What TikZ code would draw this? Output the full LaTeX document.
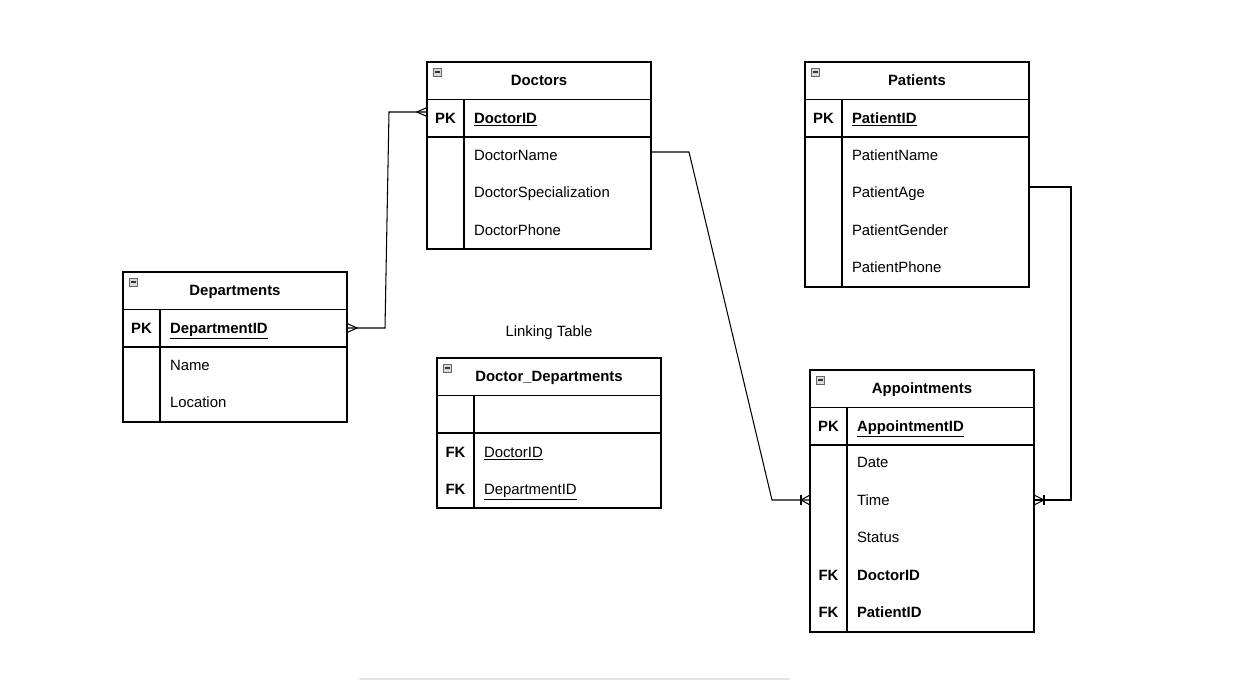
\documentclass[tikz,border=0pt]{standalone}
\usepackage{fontspec}
\setmainfont{Liberation Sans}

% One ER table: #1 name, #2 left x, #3 top y, #4 height, #5 title.
% Header row and primary-key row are 37.5pt high, key column is 37pt wide.
\newcommand\ertable[5]{%
  \node[tablebox, minimum height=#4pt] (#1) at (#2,#3) {};
  \draw[frame] ([yshift=-37.5pt]#1.north west) -- ([yshift=-37.5pt]#1.north east);
  \draw[frame] ([yshift=-75pt]#1.north west) -- ([yshift=-75pt]#1.north east);
  \draw[frame] ([xshift=37pt,yshift=-37.5pt]#1.north west) -- ([xshift=37pt]#1.south west);
  \draw[icon] ([xshift=6pt,yshift=-6pt]#1.north west) rectangle ++(8,8);
  \draw[line width=1.3pt, black!80] ([xshift=7.5pt,yshift=-10pt]#1.north west) -- ++(5,0);
  \node[titletxt] (#1-title) at ([yshift=-18.5pt]#1.north) {#5};
}
% Field text: #1 table, #2 node name, #3 row centre below the top, #4 text
\newcommand\erfield[4]{%
  \node[fieldtxt] (#2) at ([xshift=37pt,yshift=-#3pt]#1.north west) {#4};}
% Key marker in the narrow column
\newcommand\erkey[4]{%
  \node[keytxt] (#2) at ([xshift=18.5pt,yshift=-#3pt]#1.north west) {#4};}

\begin{document}
\begin{tikzpicture}[x=1pt,y=-1pt,
  every node/.style={font=\fontsize{14.9}{18}\selectfont},
  frame/.style={draw=black, line width=1.05pt},
  tablebox/.style={frame, fill=white, inner sep=0pt, outer sep=0pt,
    minimum width=224pt, anchor=north west},
  titletxt/.style={font=\fontsize{14.9}{18}\selectfont\bfseries, inner sep=0pt,
    text height=10.7pt, text depth=0pt},
  keytxt/.style={titletxt},
  lbl/.style={inner sep=0pt, text height=10.7pt, text depth=0pt},
  fieldtxt/.style={inner xsep=10pt, inner ysep=0pt, text width=167pt, align=left,
    text height=10.7pt, text depth=0pt, anchor=west, outer sep=0pt},
  icon/.style={draw=gray!80!black, fill=gray!30, line width=0.7pt},
  conn/.style={draw=black, line width=1.05pt},
]
\fill[white] (0,0) rectangle (1242,680);
\useasboundingbox (0,0) rectangle (1242,680);

% Doctors
\ertable{doctors}{427}{62}{187}{Doctors}
\erkey{doctors}{doctors-pk}{56}{PK}
\erfield{doctors}{doctors-id}{56}{\textbf{\underline{DoctorID}}}
\erfield{doctors}{doctors-name}{93}{DoctorName}
\erfield{doctors}{doctors-spec}{130.5}{DoctorSpecialization}
\erfield{doctors}{doctors-phone}{168}{DoctorPhone}

% Patients
\ertable{patients}{805}{62}{225}{Patients}
\erkey{patients}{patients-pk}{56}{PK}
\erfield{patients}{patients-id}{56}{\textbf{\underline{PatientID}}}
\erfield{patients}{patients-name}{93}{PatientName}
\erfield{patients}{patients-age}{130.5}{PatientAge}
\erfield{patients}{patients-gender}{168}{PatientGender}
\erfield{patients}{patients-phone}{205.5}{PatientPhone}

% Departments
\ertable{departments}{123}{272}{150}{Departments}
\erkey{departments}{departments-pk}{56}{PK}
\erfield{departments}{departments-id}{56}{\textbf{\underline{DepartmentID}}}
\erfield{departments}{departments-name}{93}{Name}
\erfield{departments}{departments-loc}{130.5}{Location}

% Linking table
\node[lbl] (link-label) at (549,331) {Linking Table};
\ertable{docdept}{437}{358}{150}{Doctor\_Departments}
\erkey{docdept}{docdept-fk1}{94}{FK}
\erfield{docdept}{docdept-doc}{94}{\underline{DoctorID}}
\erkey{docdept}{docdept-fk2}{131}{FK}
\erfield{docdept}{docdept-dep}{131}{\underline{DepartmentID}}

% Appointments
\ertable{appointments}{810}{370}{262}{Appointments}
\erkey{appointments}{appointments-pk}{56}{PK}
\erfield{appointments}{appointments-id}{56}{\textbf{\underline{AppointmentID}}}
\erfield{appointments}{appointments-date}{92.5}{Date}
\erfield{appointments}{appointments-time}{130}{Time}
\erfield{appointments}{appointments-status}{167.5}{Status}
\erkey{appointments}{appointments-fk1}{205}{FK}
\erfield{appointments}{appointments-doc}{205}{\textbf{DoctorID}}
\erkey{appointments}{appointments-fk2}{242.5}{FK}
\erfield{appointments}{appointments-pat}{242.5}{\textbf{PatientID}}

% Connector end points on the table borders
\path (doctors.west |- doctors-id.west) ++(0,-6) coordinate (doc-in);
\path (doctors-name.east) ++(0,-3) coordinate (doc-out);
\path (appointments.west |- appointments-time.west) coordinate (app-in);
\path (patients-age.east) ++(0,-5.5) coordinate (pat-out);

% Departments -- Doctors (many to many)
\draw[conn] (departments-id.east) -- ++(38,0) -- ([xshift=-38pt]doc-in) -- (doc-in);
\draw[conn] ([yshift=4.5pt]doc-in) -- ([xshift=-10pt]doc-in) -- ([yshift=-4.5pt]doc-in);
\draw[conn] ([yshift=4.5pt]departments-id.east) -- ([xshift=10pt]departments-id.east)
  -- ([yshift=-4.5pt]departments-id.east);

% Doctors -- Appointments (one to many)
\draw[conn] (doc-out) -- ++(38,0) -- ([xshift=-38pt]app-in) -- (app-in);
\draw[conn] ([yshift=5pt]app-in) -- ([xshift=-9pt]app-in) -- ([yshift=-5pt]app-in);
\draw[conn] ([xshift=-9pt,yshift=5pt]app-in) -- ([xshift=-9pt,yshift=-5pt]app-in);

% Patients -- Appointments (one to many)
\draw[conn] (pat-out) -- ++(42,0) |- (appointments-time.east);
\draw[conn] ([yshift=5pt]appointments-time.east) -- ([xshift=10pt]appointments-time.east)
  -- ([yshift=-5pt]appointments-time.east);
\draw[conn] ([xshift=10pt,yshift=5pt]appointments-time.east)
  -- ([xshift=10pt,yshift=-5pt]appointments-time.east);

% Thin grey bar along the bottom edge
\draw[line width=2pt, gray!22, line cap=round] (360,679) -- (789,679);
\end{tikzpicture}
\end{document}
